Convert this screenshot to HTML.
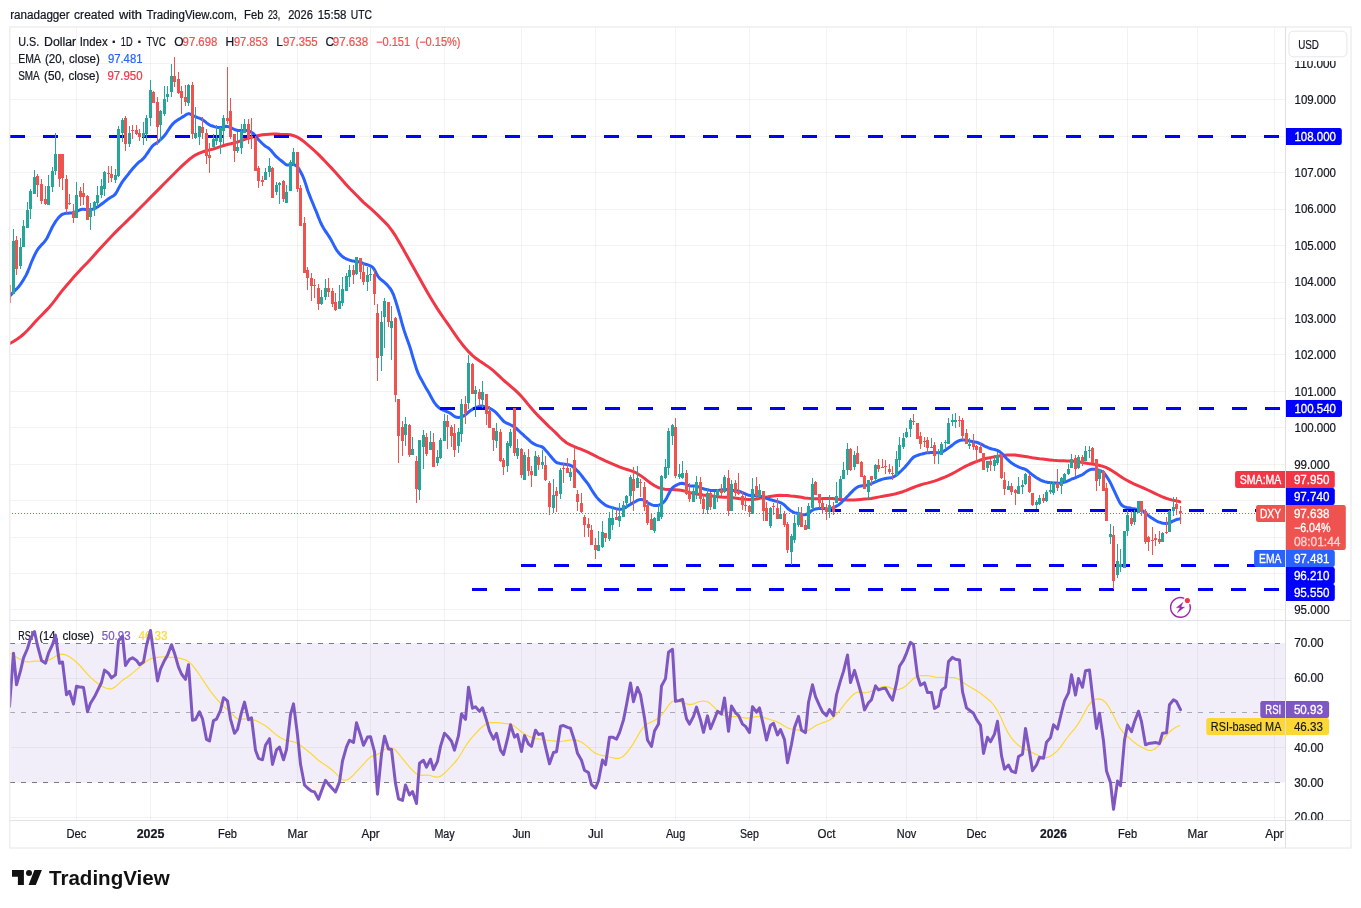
<!DOCTYPE html>
<html lang="en"><head><meta charset="utf-8"><title>U.S. Dollar Index chart</title>
<style>html,body{margin:0;padding:0;background:#fff;overflow:hidden}svg{display:block}text{font-family:"Liberation Sans",sans-serif}</style></head><body>
<svg width="1361" height="908" viewBox="0 0 1361 908">
<rect width="1361" height="908" fill="#fff"/>
<text font-size="12" fill="#131722" stroke="#131722" stroke-width="0.22"><tspan x="10.2" y="18.5" textLength="59.5" lengthAdjust="spacingAndGlyphs">ranadagger</tspan> <tspan x="74.1" y="18.5" textLength="40.2" lengthAdjust="spacingAndGlyphs">created</tspan> <tspan x="119.0" y="18.5" textLength="23.0" lengthAdjust="spacingAndGlyphs">with</tspan> <tspan x="146.4" y="18.5" textLength="90.6" lengthAdjust="spacingAndGlyphs">TradingView.com,</tspan> <tspan x="244.1" y="18.5" textLength="19.4" lengthAdjust="spacingAndGlyphs">Feb</tspan> <tspan x="267.9" y="18.5" textLength="12.4" lengthAdjust="spacingAndGlyphs">23,</tspan> <tspan x="288.2" y="18.5" textLength="24.7" lengthAdjust="spacingAndGlyphs">2026</tspan> <tspan x="317.7" y="18.5" textLength="28.7" lengthAdjust="spacingAndGlyphs">15:58</tspan> <tspan x="350.8" y="18.5" textLength="21.2" lengthAdjust="spacingAndGlyphs">UTC</tspan></text>
<defs>
<clipPath id="cm"><rect x="10" y="27.5" width="1275.5" height="593.0"/></clipPath>
<clipPath id="cr"><rect x="10" y="620.5" width="1275.5" height="200.0"/></clipPath>
<clipPath id="ca"><rect x="1285.5" y="27.5" width="65.5" height="593.0"/></clipPath>
<clipPath id="cb"><rect x="1285.5" y="620.5" width="65.5" height="200.0"/></clipPath>
</defs>
<g stroke="#2a3e34" stroke-opacity="0.062" stroke-width="1">
<line x1="76.5" y1="27.5" x2="76.5" y2="820.5"/>
<line x1="150.5" y1="27.5" x2="150.5" y2="820.5"/>
<line x1="227.5" y1="27.5" x2="227.5" y2="820.5"/>
<line x1="297.5" y1="27.5" x2="297.5" y2="820.5"/>
<line x1="370.5" y1="27.5" x2="370.5" y2="820.5"/>
<line x1="444.5" y1="27.5" x2="444.5" y2="820.5"/>
<line x1="521.5" y1="27.5" x2="521.5" y2="820.5"/>
<line x1="595.5" y1="27.5" x2="595.5" y2="820.5"/>
<line x1="675.5" y1="27.5" x2="675.5" y2="820.5"/>
<line x1="749.5" y1="27.5" x2="749.5" y2="820.5"/>
<line x1="826.5" y1="27.5" x2="826.5" y2="820.5"/>
<line x1="906.5" y1="27.5" x2="906.5" y2="820.5"/>
<line x1="976.5" y1="27.5" x2="976.5" y2="820.5"/>
<line x1="1053.5" y1="27.5" x2="1053.5" y2="820.5"/>
<line x1="1127.5" y1="27.5" x2="1127.5" y2="820.5"/>
<line x1="1197.5" y1="27.5" x2="1197.5" y2="820.5"/>
<line x1="1274.5" y1="27.5" x2="1274.5" y2="820.5"/>
<line x1="10.5" y1="609.5" x2="1285.5" y2="609.5"/>
<line x1="10.5" y1="573.5" x2="1285.5" y2="573.5"/>
<line x1="10.5" y1="537.5" x2="1285.5" y2="537.5"/>
<line x1="10.5" y1="500.5" x2="1285.5" y2="500.5"/>
<line x1="10.5" y1="464.5" x2="1285.5" y2="464.5"/>
<line x1="10.5" y1="427.5" x2="1285.5" y2="427.5"/>
<line x1="10.5" y1="391.5" x2="1285.5" y2="391.5"/>
<line x1="10.5" y1="354.5" x2="1285.5" y2="354.5"/>
<line x1="10.5" y1="318.5" x2="1285.5" y2="318.5"/>
<line x1="10.5" y1="282.5" x2="1285.5" y2="282.5"/>
<line x1="10.5" y1="245.5" x2="1285.5" y2="245.5"/>
<line x1="10.5" y1="209.5" x2="1285.5" y2="209.5"/>
<line x1="10.5" y1="172.5" x2="1285.5" y2="172.5"/>
<line x1="10.5" y1="136.5" x2="1285.5" y2="136.5"/>
<line x1="10.5" y1="99.5" x2="1285.5" y2="99.5"/>
<line x1="10.5" y1="63.5" x2="1285.5" y2="63.5"/>
<line x1="10.5" y1="817.5" x2="1285.5" y2="817.5"/>
<line x1="10.5" y1="747.5" x2="1285.5" y2="747.5"/>
<line x1="10.5" y1="678.5" x2="1285.5" y2="678.5"/>
</g>
<text font-size="12" fill="#131722" stroke="#131722" stroke-width="0.22"><tspan x="18.2" y="45.9" textLength="21.0" lengthAdjust="spacingAndGlyphs">U.S.</tspan> <tspan x="44.1" y="45.9" textLength="32.1" lengthAdjust="spacingAndGlyphs">Dollar</tspan> <tspan x="79.7" y="45.9" textLength="27.9" lengthAdjust="spacingAndGlyphs">Index</tspan> <tspan x="111.7" y="46.7" font-size="15" font-weight="bold">·</tspan> <tspan x="120.8" y="45.9" textLength="11.8" lengthAdjust="spacingAndGlyphs">1D</tspan> <tspan x="137.2" y="46.7" font-size="15" font-weight="bold">·</tspan> <tspan x="146.4" y="45.9" textLength="19.4" lengthAdjust="spacingAndGlyphs">TVC</tspan></text>
<text x="174.3" y="45.9" font-size="12" fill="#131722" stroke="#131722" stroke-width="0.22">O</text>
<text x="182.6" y="45.9" font-size="12" fill="#ef5350" textLength="34.7" lengthAdjust="spacingAndGlyphs" stroke="#ef5350" stroke-width="0.22">97.698</text>
<text x="225.4" y="45.9" font-size="12" fill="#131722" stroke="#131722" stroke-width="0.22">H</text>
<text x="233.9" y="45.9" font-size="12" fill="#ef5350" textLength="34.0" lengthAdjust="spacingAndGlyphs" stroke="#ef5350" stroke-width="0.22">97.853</text>
<text x="276.2" y="45.9" font-size="12" fill="#131722" stroke="#131722" stroke-width="0.22">L</text>
<text x="282.9" y="45.9" font-size="12" fill="#ef5350" textLength="34.8" lengthAdjust="spacingAndGlyphs" stroke="#ef5350" stroke-width="0.22">97.355</text>
<text x="325.6" y="45.9" font-size="12" fill="#131722" stroke="#131722" stroke-width="0.22">C</text>
<text x="332.8" y="45.9" font-size="12" fill="#ef5350" textLength="35.3" lengthAdjust="spacingAndGlyphs" stroke="#ef5350" stroke-width="0.22">97.638</text>
<text x="376.0" y="45.9" font-size="12" fill="#ef5350" textLength="34.2" lengthAdjust="spacingAndGlyphs" stroke="#ef5350" stroke-width="0.22">−0.151</text>
<text x="415.5" y="45.9" font-size="12" fill="#ef5350" textLength="45.0" lengthAdjust="spacingAndGlyphs" stroke="#ef5350" stroke-width="0.22">(−0.15%)</text>
<text font-size="12" fill="#131722" stroke="#131722" stroke-width="0.22"><tspan x="18.2" y="62.6" textLength="22.0" lengthAdjust="spacingAndGlyphs">EMA</tspan> <tspan x="45.0" y="62.6" textLength="19.9" lengthAdjust="spacingAndGlyphs">(20,</tspan> <tspan x="69.1" y="62.6" textLength="30.7" lengthAdjust="spacingAndGlyphs">close)</tspan></text>
<text x="107.9" y="62.6" font-size="12" fill="#2962ff" textLength="34.6" lengthAdjust="spacingAndGlyphs" stroke="#2962ff" stroke-width="0.22">97.481</text>
<text font-size="12" fill="#131722" stroke="#131722" stroke-width="0.22"><tspan x="18.2" y="79.7" textLength="21.0" lengthAdjust="spacingAndGlyphs">SMA</tspan> <tspan x="44.1" y="79.7" textLength="20.3" lengthAdjust="spacingAndGlyphs">(50,</tspan> <tspan x="68.4" y="79.7" textLength="30.9" lengthAdjust="spacingAndGlyphs">close)</tspan></text>
<text x="107.5" y="79.7" font-size="12" fill="#f23645" textLength="35.0" lengthAdjust="spacingAndGlyphs" stroke="#f23645" stroke-width="0.22">97.950</text>
<text font-size="12" fill="#131722" stroke="#131722" stroke-width="0.22"><tspan x="18.2" y="640.2" textLength="15.0" lengthAdjust="spacingAndGlyphs">RSI</tspan> <tspan x="39.3" y="640.2" textLength="19.3" lengthAdjust="spacingAndGlyphs">(14,</tspan> <tspan x="62.5" y="640.2" textLength="31.3" lengthAdjust="spacingAndGlyphs">close)</tspan></text>
<text x="101.8" y="640.2" font-size="12" fill="#7e57c2" textLength="28.8" lengthAdjust="spacingAndGlyphs" stroke="#7e57c2" stroke-width="0.22">50.93</text>
<text x="138.4" y="640.2" font-size="12" fill="#fdd835" textLength="29.2" lengthAdjust="spacingAndGlyphs" stroke="#fdd835" stroke-width="0.22">46.33</text>
<g clip-path="url(#cr)">
<rect x="10.5" y="643.1" width="1275.0" height="139.4" fill="#7e57c2" fill-opacity="0.1"/>
<g stroke="#787b86" stroke-width="1" stroke-dasharray="5 6" shape-rendering="crispEdges">
<line x1="10" y1="643.5" x2="1285.5" y2="643.5"/>
<line x1="10" y1="712.5" x2="1285.5" y2="712.5" stroke-opacity="0.6"/>
<line x1="10" y1="782.5" x2="1285.5" y2="782.5"/>
</g>
<clipPath id="co"><rect x="10.5" y="782.5" width="1275.0" height="60"/></clipPath>
<path clip-path="url(#co)" fill="#f23645" fill-opacity="0.07" d="M9.5 782.6L9.5 706.4L13.5 653.2L16.5 684.8L20.5 670.9L23.5 657.8L27.5 648.5L30.5 638.5L34.5 631.6L37.5 645.5L41.5 660.4L45.5 663.2L48.5 653.2L52.5 644.7L55.5 635.1L59.5 663.2L62.5 662.0L66.5 694.8L69.5 691.3L73.5 704.1L76.5 686.3L80.5 687.1L83.5 687.6L87.5 711.8L90.5 703.3L94.5 696.8L101.5 682.5L104.5 670.1L108.5 673.2L111.5 677.9L115.5 674.8L118.5 640.8L122.5 636.2L125.5 665.5L129.5 659.3L132.5 657.8L136.5 660.4L139.5 664.7L143.5 662.0L146.5 645.5L150.5 630.5L153.5 652.4L157.5 680.9L160.5 669.1L164.5 660.4L167.5 655.2L171.5 644.7L174.5 653.2L178.5 667.1L181.5 674.0L185.5 679.4L188.5 664.7L192.5 720.3L195.5 719.5L199.5 711.8L202.5 718.8L206.5 739.4L209.5 741.0L213.5 720.6L216.5 719.1L220.5 710.4L223.5 697.8L227.5 700.9L230.5 719.1L234.5 733.3L237.5 729.4L241.5 712.4L244.5 702.1L248.5 719.7L251.5 717.8L255.5 750.2L258.5 758.3L262.5 759.8L265.5 745.3L269.5 738.7L272.5 764.4L276.5 749.9L279.5 747.1L283.5 759.8L286.5 749.5L290.5 714.7L293.5 703.9L297.5 734.8L300.5 764.1L304.5 785.0L307.5 788.0L311.5 791.1L314.5 791.9L318.5 799.3L321.5 791.1L325.5 780.3L328.5 784.2L332.5 788.8L335.5 791.9L339.5 781.9L342.5 761.0L346.5 746.8L349.5 740.2L353.5 742.5L356.5 722.8L360.5 735.1L363.5 745.3L367.5 737.1L370.5 736.7L374.5 751.8L377.5 794.2L381.5 754.1L384.5 736.3L388.5 749.0L391.5 749.5L395.5 783.4L398.5 798.8L402.5 800.4L405.5 785.0L409.5 795.0L412.5 791.6L416.5 803.5L419.5 763.3L423.5 760.3L426.5 767.2L430.5 759.2L433.5 769.5L437.5 761.3L440.5 746.4L444.5 733.3L447.5 736.3L451.5 741.3L454.5 750.2L458.5 735.6L461.5 714.0L465.5 719.4L468.5 687.3L472.5 708.3L475.5 706.7L479.5 711.4L482.5 707.8L486.5 720.1L489.5 730.9L493.5 739.1L496.5 733.3L500.5 750.2L503.5 754.6L507.5 738.7L510.5 724.8L514.5 737.1L517.5 734.5L521.5 751.5L524.5 735.6L528.5 744.1L531.5 746.4L535.5 730.2L538.5 734.5L542.5 733.6L545.5 747.1L549.5 763.8L553.5 752.5L556.5 751.8L560.5 726.3L563.5 725.5L567.5 727.4L570.5 728.3L574.5 740.7L577.5 753.3L581.5 760.3L584.5 770.3L588.5 772.6L591.5 784.6L595.5 788.1L598.5 780.7L602.5 760.0L605.5 764.7L609.5 737.2L612.5 737.2L616.5 739.1L619.5 732.6L623.5 719.9L626.5 704.8L630.5 682.9L633.5 701.7L637.5 687.5L640.5 694.8L644.5 717.9L647.5 740.0L651.5 746.5L654.5 731.0L658.5 724.1L661.5 686.0L665.5 678.6L668.5 652.3L672.5 649.3L675.5 701.4L679.5 700.5L682.5 699.4L686.5 718.7L689.5 724.1L693.5 716.4L696.5 707.1L700.5 719.9L703.5 732.3L707.5 715.9L710.5 728.7L714.5 719.0L717.5 711.3L721.5 714.1L724.5 697.9L728.5 731.3L731.5 706.0L735.5 712.8L738.5 715.3L742.5 724.1L745.5 726.4L749.5 732.6L752.5 706.7L756.5 712.2L759.5 707.9L763.5 725.6L766.5 740.0L770.5 725.4L773.5 723.3L777.5 734.9L780.5 729.5L784.5 739.6L787.5 762.7L791.5 744.2L794.5 727.5L798.5 716.4L801.5 730.3L805.5 732.6L808.5 702.5L812.5 684.8L815.5 696.7L819.5 705.6L822.5 711.8L826.5 715.6L829.5 709.5L833.5 715.6L836.5 694.8L840.5 680.6L843.5 671.4L847.5 655.0L850.5 682.5L854.5 670.4L857.5 680.9L861.5 694.8L864.5 709.9L868.5 702.8L871.5 699.7L875.5 685.9L878.5 689.9L882.5 688.6L885.5 688.3L889.5 695.6L892.5 700.2L896.5 683.2L899.5 666.3L903.5 660.1L906.5 653.1L910.5 642.3L913.5 644.7L917.5 676.3L920.5 685.2L924.5 682.8L927.5 692.5L931.5 692.5L934.5 708.4L938.5 705.9L941.5 690.2L945.5 687.1L948.5 661.6L952.5 657.4L955.5 659.3L959.5 660.0L962.5 691.7L966.5 707.9L969.5 710.2L973.5 713.3L976.5 719.4L980.5 725.3L983.5 753.4L987.5 737.2L990.5 741.8L994.5 734.1L997.5 721.3L1001.5 755.7L1004.5 769.1L1008.5 765.0L1011.5 771.1L1015.5 772.7L1018.5 756.5L1022.5 754.2L1025.5 728.4L1029.5 751.8L1032.5 770.7L1036.5 765.0L1039.5 757.2L1043.5 758.3L1046.5 742.3L1050.5 737.6L1053.5 724.8L1057.5 729.0L1061.5 712.5L1064.5 700.9L1068.5 692.9L1071.5 674.7L1075.5 695.1L1078.5 678.5L1082.5 687.3L1085.5 670.8L1089.5 670.1L1092.5 696.0L1096.5 728.4L1099.5 713.3L1103.5 741.0L1106.5 771.0L1110.5 782.6L1113.5 809.3L1117.5 781.1L1120.5 785.7L1124.5 740.2L1127.5 725.1L1131.5 731.7L1134.5 721.7L1138.5 711.2L1141.5 721.7L1145.5 744.8L1148.5 743.6L1152.5 743.0L1155.5 742.5L1159.5 743.6L1162.5 733.2L1166.5 732.8L1169.5 704.7L1173.5 699.8L1176.5 701.6L1180.5 709.6L1180.5 782.6Z"/>
<polyline fill="none" stroke="#fdd835" stroke-width="1.2" stroke-linejoin="round" points="10.3,653.2 13.8,655.3 17.3,657.7 20.8,659.8 24.3,661.3 27.8,661.9 31.3,661.6 34.8,661.2 38.3,661.1 41.8,661.2 45.3,660.9 48.8,660.1 52.3,658.4 55.8,656.1 59.3,654.4 62.8,654.2 66.3,655.1 69.8,657.0 73.3,659.5 76.8,662.5 80.3,666.0 83.8,670.0 87.3,674.0 90.8,677.6 94.3,680.7 97.8,683.5 101.3,685.9 104.8,687.7 108.3,688.8 111.8,688.8 115.3,686.9 118.8,683.6 122.3,680.4 125.8,677.9 129.3,675.7 132.8,672.9 136.3,669.9 139.8,666.9 143.3,663.9 146.8,661.1 150.3,658.9 153.8,657.8 157.3,657.3 160.8,657.0 164.3,656.9 167.8,657.3 171.3,657.4 174.8,657.4 178.3,657.9 181.8,658.8 185.3,659.8 188.8,661.7 192.3,665.1 195.8,669.6 199.3,674.5 202.8,679.8 206.3,685.2 209.8,690.3 213.3,694.9 216.8,699.1 220.3,703.0 223.8,706.5 227.3,709.4 230.8,712.6 234.3,716.4 237.8,719.0 241.3,719.3 244.8,718.9 248.3,719.0 251.8,719.5 255.3,720.3 258.8,722.0 262.3,724.0 265.8,726.1 269.3,728.7 272.8,731.9 276.3,734.9 279.8,737.3 283.3,739.3 286.8,740.6 290.3,741.2 293.8,741.8 297.3,743.2 300.8,745.6 304.3,748.2 307.8,750.9 311.3,753.7 314.8,757.0 318.3,760.2 321.8,762.8 325.3,765.1 328.8,767.5 332.3,770.2 335.8,773.4 339.3,777.1 342.8,779.9 346.3,780.2 349.8,778.3 353.3,775.2 356.8,771.4 360.3,767.6 363.8,763.8 367.3,759.9 370.8,756.9 374.3,755.4 377.8,754.3 381.3,752.2 384.8,749.3 388.3,747.4 391.8,747.7 395.3,750.0 398.8,753.8 402.3,758.3 405.8,762.7 409.3,766.9 412.8,770.7 416.3,773.7 419.8,775.2 423.3,775.3 426.8,775.0 430.3,775.5 433.8,776.7 437.3,777.2 440.8,776.1 444.3,773.5 447.8,769.9 451.3,766.2 454.8,762.5 458.3,758.2 461.8,752.5 465.3,746.5 468.8,741.3 472.3,737.1 475.8,733.3 479.3,729.5 482.8,726.2 486.3,723.9 489.8,722.7 493.3,722.5 496.8,722.6 500.3,722.9 503.8,723.3 507.3,723.6 510.8,724.3 514.3,726.1 517.8,728.9 521.3,731.8 524.8,734.0 528.3,736.0 531.8,737.6 535.3,738.6 538.8,739.0 542.3,739.4 545.8,740.0 549.3,740.5 552.8,740.8 556.3,741.2 559.8,741.5 563.3,741.2 566.8,740.6 570.3,740.0 573.8,739.9 577.3,740.4 580.8,741.8 584.3,744.1 587.8,746.9 591.3,750.2 594.8,752.9 598.3,754.5 601.8,755.4 605.3,756.2 608.8,757.0 612.3,757.7 615.8,758.4 619.3,758.3 622.8,756.7 626.3,753.3 629.8,748.9 633.3,743.6 636.8,737.6 640.3,731.4 643.8,726.6 647.3,723.9 650.8,722.2 654.3,720.5 657.8,718.4 661.3,715.2 664.8,710.8 668.3,705.6 671.8,701.8 675.3,700.7 678.8,701.3 682.3,702.2 685.8,703.6 689.3,704.6 692.8,704.2 696.3,702.7 699.8,701.5 703.3,701.0 706.8,701.5 710.3,703.6 713.8,706.9 717.3,710.7 720.8,713.9 724.3,715.6 727.8,716.3 731.3,716.6 734.8,716.6 738.3,716.6 741.8,717.3 745.3,718.2 748.8,718.2 752.3,717.4 755.8,716.6 759.3,716.3 762.8,717.0 766.3,718.4 769.8,719.5 773.3,720.5 776.8,721.8 780.3,723.6 783.8,725.8 787.3,727.7 790.8,729.0 794.3,729.5 797.8,729.9 801.3,730.6 804.8,731.3 808.3,730.5 811.8,728.3 815.3,725.9 818.8,724.2 822.3,722.9 825.8,721.6 829.3,720.2 832.8,718.0 836.3,714.5 839.8,710.3 843.3,705.9 846.8,701.5 850.3,697.5 853.8,694.0 857.3,692.2 860.8,692.2 864.3,692.8 867.8,692.5 871.3,691.3 874.8,689.8 878.3,688.2 881.8,686.9 885.3,686.4 888.8,687.1 892.3,688.7 895.8,689.7 899.3,689.3 902.8,687.9 906.3,685.5 909.8,682.1 913.3,678.7 916.8,676.5 920.3,675.7 923.8,675.5 927.3,675.6 930.8,676.0 934.3,676.9 937.8,677.5 941.3,677.4 944.8,677.4 948.3,677.5 951.8,677.5 955.3,677.9 958.8,679.3 962.3,681.7 965.8,684.3 969.3,686.6 972.8,688.6 976.3,690.4 979.8,692.7 983.3,695.4 986.8,698.2 990.3,701.2 993.8,705.1 997.3,710.3 1000.8,717.2 1004.3,725.2 1007.8,732.4 1011.3,737.8 1014.8,741.9 1018.3,745.3 1021.8,747.6 1025.3,749.1 1028.8,750.8 1032.3,752.6 1035.8,754.3 1039.3,755.9 1042.8,757.2 1046.3,757.7 1049.8,756.6 1053.3,754.2 1056.8,751.4 1060.3,747.4 1063.8,742.4 1067.3,737.5 1070.8,733.1 1074.3,729.1 1077.8,724.4 1081.3,718.5 1084.8,711.9 1088.3,705.8 1091.8,701.5 1095.3,699.4 1098.8,698.8 1102.3,699.7 1105.8,702.6 1109.3,707.7 1112.8,714.2 1116.3,721.3 1119.8,727.9 1123.3,732.6 1126.8,735.8 1130.3,739.0 1133.8,742.1 1137.3,744.7 1140.8,746.7 1144.3,748.5 1147.8,750.1 1151.3,750.5 1154.8,749.0 1158.3,745.9 1161.8,741.4 1165.3,736.8 1168.8,732.8 1172.3,729.5 1175.8,727.3 1179.3,725.8 1180.0,725.2"/>
<polyline fill="none" stroke="#7e57c2" stroke-width="3" stroke-linejoin="round" stroke-linecap="round" points="9.5,706.4 13.5,653.2 16.5,684.8 20.5,670.9 23.5,657.8 27.5,648.5 30.5,638.5 34.5,631.6 37.5,645.5 41.5,660.4 45.5,663.2 48.5,653.2 52.5,644.7 55.5,635.1 59.5,663.2 62.5,662.0 66.5,694.8 69.5,691.3 73.5,704.1 76.5,686.3 80.5,687.1 83.5,687.6 87.5,711.8 90.5,703.3 94.5,696.8 101.5,682.5 104.5,670.1 108.5,673.2 111.5,677.9 115.5,674.8 118.5,640.8 122.5,636.2 125.5,665.5 129.5,659.3 132.5,657.8 136.5,660.4 139.5,664.7 143.5,662.0 146.5,645.5 150.5,630.5 153.5,652.4 157.5,680.9 160.5,669.1 164.5,660.4 167.5,655.2 171.5,644.7 174.5,653.2 178.5,667.1 181.5,674.0 185.5,679.4 188.5,664.7 192.5,720.3 195.5,719.5 199.5,711.8 202.5,718.8 206.5,739.4 209.5,741.0 213.5,720.6 216.5,719.1 220.5,710.4 223.5,697.8 227.5,700.9 230.5,719.1 234.5,733.3 237.5,729.4 241.5,712.4 244.5,702.1 248.5,719.7 251.5,717.8 255.5,750.2 258.5,758.3 262.5,759.8 265.5,745.3 269.5,738.7 272.5,764.4 276.5,749.9 279.5,747.1 283.5,759.8 286.5,749.5 290.5,714.7 293.5,703.9 297.5,734.8 300.5,764.1 304.5,785.0 307.5,788.0 311.5,791.1 314.5,791.9 318.5,799.3 321.5,791.1 325.5,780.3 328.5,784.2 332.5,788.8 335.5,791.9 339.5,781.9 342.5,761.0 346.5,746.8 349.5,740.2 353.5,742.5 356.5,722.8 360.5,735.1 363.5,745.3 367.5,737.1 370.5,736.7 374.5,751.8 377.5,794.2 381.5,754.1 384.5,736.3 388.5,749.0 391.5,749.5 395.5,783.4 398.5,798.8 402.5,800.4 405.5,785.0 409.5,795.0 412.5,791.6 416.5,803.5 419.5,763.3 423.5,760.3 426.5,767.2 430.5,759.2 433.5,769.5 437.5,761.3 440.5,746.4 444.5,733.3 447.5,736.3 451.5,741.3 454.5,750.2 458.5,735.6 461.5,714.0 465.5,719.4 468.5,687.3 472.5,708.3 475.5,706.7 479.5,711.4 482.5,707.8 486.5,720.1 489.5,730.9 493.5,739.1 496.5,733.3 500.5,750.2 503.5,754.6 507.5,738.7 510.5,724.8 514.5,737.1 517.5,734.5 521.5,751.5 524.5,735.6 528.5,744.1 531.5,746.4 535.5,730.2 538.5,734.5 542.5,733.6 545.5,747.1 549.5,763.8 553.5,752.5 556.5,751.8 560.5,726.3 563.5,725.5 567.5,727.4 570.5,728.3 574.5,740.7 577.5,753.3 581.5,760.3 584.5,770.3 588.5,772.6 591.5,784.6 595.5,788.1 598.5,780.7 602.5,760.0 605.5,764.7 609.5,737.2 612.5,737.2 616.5,739.1 619.5,732.6 623.5,719.9 626.5,704.8 630.5,682.9 633.5,701.7 637.5,687.5 640.5,694.8 644.5,717.9 647.5,740.0 651.5,746.5 654.5,731.0 658.5,724.1 661.5,686.0 665.5,678.6 668.5,652.3 672.5,649.3 675.5,701.4 679.5,700.5 682.5,699.4 686.5,718.7 689.5,724.1 693.5,716.4 696.5,707.1 700.5,719.9 703.5,732.3 707.5,715.9 710.5,728.7 714.5,719.0 717.5,711.3 721.5,714.1 724.5,697.9 728.5,731.3 731.5,706.0 735.5,712.8 738.5,715.3 742.5,724.1 745.5,726.4 749.5,732.6 752.5,706.7 756.5,712.2 759.5,707.9 763.5,725.6 766.5,740.0 770.5,725.4 773.5,723.3 777.5,734.9 780.5,729.5 784.5,739.6 787.5,762.7 791.5,744.2 794.5,727.5 798.5,716.4 801.5,730.3 805.5,732.6 808.5,702.5 812.5,684.8 815.5,696.7 819.5,705.6 822.5,711.8 826.5,715.6 829.5,709.5 833.5,715.6 836.5,694.8 840.5,680.6 843.5,671.4 847.5,655.0 850.5,682.5 854.5,670.4 857.5,680.9 861.5,694.8 864.5,709.9 868.5,702.8 871.5,699.7 875.5,685.9 878.5,689.9 882.5,688.6 885.5,688.3 889.5,695.6 892.5,700.2 896.5,683.2 899.5,666.3 903.5,660.1 906.5,653.1 910.5,642.3 913.5,644.7 917.5,676.3 920.5,685.2 924.5,682.8 927.5,692.5 931.5,692.5 934.5,708.4 938.5,705.9 941.5,690.2 945.5,687.1 948.5,661.6 952.5,657.4 955.5,659.3 959.5,660.0 962.5,691.7 966.5,707.9 969.5,710.2 973.5,713.3 976.5,719.4 980.5,725.3 983.5,753.4 987.5,737.2 990.5,741.8 994.5,734.1 997.5,721.3 1001.5,755.7 1004.5,769.1 1008.5,765.0 1011.5,771.1 1015.5,772.7 1018.5,756.5 1022.5,754.2 1025.5,728.4 1029.5,751.8 1032.5,770.7 1036.5,765.0 1039.5,757.2 1043.5,758.3 1046.5,742.3 1050.5,737.6 1053.5,724.8 1057.5,729.0 1061.5,712.5 1064.5,700.9 1068.5,692.9 1071.5,674.7 1075.5,695.1 1078.5,678.5 1082.5,687.3 1085.5,670.8 1089.5,670.1 1092.5,696.0 1096.5,728.4 1099.5,713.3 1103.5,741.0 1106.5,771.0 1110.5,782.6 1113.5,809.3 1117.5,781.1 1120.5,785.7 1124.5,740.2 1127.5,725.1 1131.5,731.7 1134.5,721.7 1138.5,711.2 1141.5,721.7 1145.5,744.8 1148.5,743.6 1152.5,743.0 1155.5,742.5 1159.5,743.6 1162.5,733.2 1166.5,732.8 1169.5,704.7 1173.5,699.8 1176.5,701.6 1180.5,709.6"/>
</g>
<g clip-path="url(#cm)">
<polyline fill="none" stroke="#f23645" stroke-width="3" stroke-linejoin="round" stroke-linecap="round" points="10.3,343.2 13.8,341.2 17.3,339.0 20.8,336.5 24.3,333.5 27.8,330.0 31.3,326.2 34.8,322.2 38.3,318.5 41.8,315.0 45.3,311.4 48.8,307.7 52.3,303.6 55.8,299.1 59.3,294.4 62.8,289.9 66.3,285.7 69.8,281.7 73.3,277.6 76.8,273.7 80.3,269.9 83.8,266.3 87.3,262.7 90.8,258.9 94.3,255.1 97.8,251.1 101.3,247.3 104.8,243.5 108.3,239.7 111.8,236.0 115.3,232.4 118.8,228.9 122.3,225.5 125.8,222.1 129.3,218.7 132.8,215.3 136.3,211.8 139.8,208.2 143.3,204.7 146.8,201.2 150.3,197.6 153.8,194.1 157.3,190.6 160.8,187.1 164.3,183.5 167.8,180.0 171.3,176.5 174.8,173.0 178.3,169.5 181.8,166.1 185.3,162.8 188.8,159.8 192.3,157.1 195.8,154.8 199.3,153.1 202.8,151.8 206.3,150.8 209.8,149.9 213.3,149.0 216.8,147.8 220.3,146.6 223.8,145.5 227.3,144.5 230.8,143.7 234.3,142.9 237.8,141.9 241.3,140.6 244.8,139.4 248.3,138.2 251.8,137.2 255.3,136.3 258.8,135.4 262.3,134.8 265.8,134.4 269.3,134.2 272.8,134.1 276.3,134.1 279.8,134.3 283.3,134.4 286.8,134.5 290.3,134.8 293.8,135.7 297.3,137.1 300.8,139.2 304.3,141.9 307.8,144.8 311.3,147.8 314.8,151.0 318.3,154.4 321.8,157.9 325.3,161.5 328.8,165.2 332.3,168.9 335.8,172.8 339.3,176.8 342.8,180.8 346.3,184.7 349.8,188.5 353.3,192.0 356.8,195.5 360.3,199.1 363.8,202.6 367.3,205.7 370.8,208.7 374.3,211.8 377.8,215.1 381.3,218.6 384.8,222.1 388.3,225.8 391.8,230.3 395.3,235.6 398.8,241.5 402.3,247.6 405.8,253.7 409.3,259.9 412.8,266.2 416.3,272.5 419.8,278.8 423.3,285.0 426.8,291.2 430.3,297.2 433.8,303.0 437.3,308.6 440.8,313.9 444.3,319.0 447.8,323.9 451.3,329.0 454.8,334.2 458.3,339.1 461.8,343.7 465.3,348.0 468.8,351.9 472.3,355.4 475.8,358.3 479.3,360.8 482.8,363.1 486.3,365.4 489.8,367.9 493.3,370.7 496.8,373.8 500.3,377.2 503.8,380.5 507.3,383.4 510.8,386.3 514.3,389.3 517.8,392.6 521.3,396.3 524.8,400.3 528.3,404.6 531.8,408.7 535.3,412.7 538.8,416.4 542.3,419.9 545.8,423.4 549.3,426.8 552.8,430.0 556.3,433.4 559.8,437.0 563.3,440.3 566.8,443.0 570.3,444.9 573.8,446.4 577.3,447.8 580.8,449.1 584.3,450.6 587.8,452.1 591.3,453.8 594.8,455.6 598.3,457.5 601.8,459.2 605.3,460.8 608.8,462.3 612.3,463.8 615.8,465.3 619.3,466.8 622.8,468.1 626.3,469.3 629.8,470.4 633.3,471.6 636.8,473.2 640.3,475.4 643.8,477.9 647.3,480.6 650.8,483.3 654.3,485.5 657.8,487.3 661.3,488.5 664.8,489.2 668.3,489.5 671.8,489.6 675.3,489.7 678.8,490.0 682.3,490.5 685.8,491.4 689.3,492.4 692.8,493.3 696.3,493.9 699.8,494.5 703.3,495.0 706.8,495.4 710.3,495.8 713.8,496.3 717.3,496.7 720.8,497.1 724.3,497.2 727.8,497.3 731.3,497.5 734.8,497.9 738.3,498.4 741.8,498.9 745.3,499.3 748.8,499.5 752.3,499.4 755.8,498.9 759.3,498.4 762.8,497.7 766.3,497.1 769.8,496.4 773.3,495.9 776.8,495.5 780.3,495.3 783.8,495.4 787.3,495.6 790.8,496.0 794.3,496.3 797.8,496.8 801.3,497.3 804.8,497.9 808.3,498.3 811.8,498.6 815.3,498.7 818.8,498.7 822.3,498.6 825.8,498.4 829.3,498.4 832.8,498.6 836.3,499.0 839.8,499.4 843.3,499.8 846.8,500.0 850.3,500.1 853.8,500.0 857.3,499.7 860.8,499.4 864.3,499.1 867.8,498.8 871.3,498.4 874.8,497.8 878.3,497.1 881.8,496.4 885.3,495.8 888.8,495.2 892.3,494.6 895.8,493.8 899.3,492.8 902.8,491.7 906.3,490.4 909.8,488.9 913.3,487.5 916.8,486.2 920.3,485.0 923.8,483.9 927.3,483.1 930.8,482.1 934.3,481.1 937.8,479.9 941.3,478.5 944.8,477.1 948.3,475.6 951.8,473.9 955.3,472.0 958.8,470.0 962.3,468.0 965.8,466.1 969.3,464.5 972.8,463.0 976.3,461.6 979.8,460.3 983.3,459.2 986.8,458.3 990.3,457.6 993.8,456.9 997.3,456.3 1000.8,455.7 1004.3,455.3 1007.8,455.0 1011.3,455.0 1014.8,455.1 1018.3,455.4 1021.8,455.9 1025.3,456.5 1028.8,457.1 1032.3,457.8 1035.8,458.3 1039.3,458.8 1042.8,459.1 1046.3,459.5 1049.8,459.9 1053.3,460.3 1056.8,460.6 1060.3,460.7 1063.8,460.8 1067.3,460.9 1070.8,461.0 1074.3,461.3 1077.8,461.7 1081.3,462.3 1084.8,462.9 1088.3,463.5 1091.8,464.0 1095.3,464.5 1098.8,465.2 1102.3,466.1 1105.8,467.3 1109.3,469.1 1112.8,471.2 1116.3,473.5 1119.8,475.9 1123.3,478.2 1126.8,480.2 1130.3,482.1 1133.8,483.8 1137.3,485.3 1140.8,486.8 1144.3,488.4 1147.8,490.0 1151.3,491.6 1154.8,493.3 1158.3,495.0 1161.8,496.6 1165.3,498.0 1168.8,499.1 1172.3,500.1 1175.8,500.8 1179.3,501.4 1179.8,501.8"/>
<polyline fill="none" stroke="#2962ff" stroke-width="3" stroke-linejoin="round" stroke-linecap="round" points="10.3,295.5 12.1,293.6 13.8,291.7 15.6,289.9 17.3,288.2 19.1,286.2 20.8,283.9 22.6,281.2 24.3,278.3 26.1,275.2 27.8,271.5 29.6,267.1 31.3,262.5 33.1,258.4 34.8,254.6 36.6,251.2 38.3,248.6 40.1,246.5 41.8,244.6 43.6,242.7 45.3,240.7 47.1,238.0 48.8,234.4 50.6,230.6 52.3,227.0 54.1,223.9 55.8,221.1 57.6,218.9 59.3,216.8 61.1,215.1 62.8,214.1 64.6,213.6 66.3,213.3 68.1,213.2 69.8,213.1 71.6,213.0 73.3,212.7 75.1,212.0 76.8,211.2 78.6,210.5 80.3,209.7 82.1,209.2 83.8,209.2 85.6,209.5 87.3,209.7 89.1,209.7 90.8,209.4 92.6,209.2 94.3,208.7 96.1,207.8 97.8,206.7 99.6,205.5 101.3,204.3 103.1,203.0 104.8,201.6 106.6,200.2 108.3,198.9 110.1,197.8 111.8,196.8 113.6,195.8 115.3,194.1 117.1,191.2 118.8,187.9 120.6,184.7 122.3,181.9 124.1,179.5 125.8,177.3 127.6,175.1 129.3,172.8 131.1,170.6 132.8,168.5 134.6,166.6 136.3,164.7 138.1,162.9 139.8,161.4 141.6,160.2 143.3,158.6 145.1,156.5 146.8,154.0 148.6,151.5 150.3,148.8 152.1,146.4 153.8,144.7 155.6,143.6 157.3,142.5 159.1,141.0 160.8,139.4 162.6,137.7 164.3,135.8 166.1,133.5 167.8,130.8 169.6,128.2 171.3,125.7 173.1,123.6 174.8,122.0 176.6,120.7 178.3,119.6 180.1,118.5 181.8,117.4 183.6,116.4 185.3,115.3 187.1,114.1 188.8,113.6 190.6,114.2 192.3,115.2 194.1,116.1 195.8,116.8 197.6,117.6 199.3,118.2 201.1,118.9 202.8,119.9 204.6,121.2 206.3,122.6 208.1,124.0 209.8,125.1 211.6,125.8 213.3,126.3 215.1,126.9 216.8,127.3 218.6,127.6 220.3,127.6 222.1,127.2 223.8,126.6 225.6,126.3 227.3,126.4 229.1,126.9 230.8,127.6 232.6,128.5 234.3,129.3 236.1,130.0 237.8,130.5 239.6,130.6 241.3,130.5 243.1,130.5 244.8,130.5 246.6,130.6 248.3,130.9 250.1,131.6 251.8,132.5 253.6,133.8 255.3,135.8 257.1,138.0 258.8,140.0 260.6,141.8 262.3,143.5 264.1,145.1 265.8,146.5 267.6,147.5 269.3,148.7 271.1,150.5 272.8,152.6 274.6,154.8 276.3,156.7 278.1,158.2 279.8,159.6 281.6,161.0 283.3,162.4 285.1,164.0 286.8,165.0 288.6,164.9 290.3,164.5 292.1,164.3 293.8,164.6 295.6,165.3 297.3,166.7 299.1,169.1 300.8,172.2 302.6,175.7 304.3,179.9 306.1,185.2 307.8,190.7 309.6,195.4 311.3,199.7 313.1,204.0 314.8,208.2 316.6,212.4 318.3,216.9 320.1,221.3 321.8,225.0 323.6,228.2 325.3,231.0 327.1,233.5 328.8,236.1 330.6,239.0 332.3,242.1 334.1,245.6 335.8,248.8 337.6,251.3 339.3,253.5 341.1,255.4 342.8,256.9 344.6,258.0 346.3,258.8 348.1,259.6 349.8,260.2 351.6,260.7 353.3,261.1 355.1,261.4 356.8,261.5 358.6,261.8 360.3,262.3 362.1,263.0 363.8,263.7 365.6,264.2 367.3,264.7 369.1,265.3 370.8,266.1 372.6,267.2 374.3,269.5 376.1,273.0 377.8,276.1 379.6,278.3 381.3,279.8 383.1,281.2 384.8,282.6 386.6,284.3 388.3,286.3 390.1,288.4 391.8,291.1 393.6,295.0 395.3,299.9 397.1,305.7 398.8,311.6 400.6,317.9 402.3,324.5 404.1,330.4 405.8,335.5 407.6,340.4 409.3,345.3 411.1,350.8 412.8,356.9 414.6,362.9 416.3,368.4 418.1,373.2 419.8,376.8 421.6,379.9 423.3,383.1 425.1,386.4 426.8,389.4 428.6,392.2 430.3,395.4 432.1,398.8 433.8,401.8 435.6,404.2 437.3,406.2 439.1,407.8 440.8,409.0 442.6,409.9 444.3,410.7 446.1,411.3 447.8,412.0 449.6,412.8 451.3,414.0 453.1,415.4 454.8,416.6 456.6,417.3 458.3,417.5 460.1,417.3 461.8,416.7 463.6,416.0 465.3,414.8 467.1,413.3 468.8,411.8 470.6,410.5 472.3,409.4 474.1,408.4 475.8,407.6 477.6,406.9 479.3,406.3 481.1,406.1 482.8,406.2 484.6,406.6 486.3,407.1 488.1,407.7 489.8,408.4 491.6,409.3 493.3,410.4 495.1,411.7 496.8,413.4 498.6,415.4 500.3,417.5 502.1,419.6 503.8,421.4 505.6,422.6 507.3,423.4 509.1,424.2 510.8,425.0 512.6,425.9 514.3,426.9 516.1,428.2 517.8,429.8 519.6,431.5 521.3,433.2 523.1,434.7 524.8,436.3 526.6,437.8 528.3,439.4 530.1,441.1 531.8,442.6 533.6,443.7 535.3,444.6 537.1,445.3 538.8,445.9 540.6,446.3 542.3,447.0 544.1,448.5 545.8,450.4 547.6,452.4 549.3,454.6 551.1,456.8 552.8,458.9 554.6,460.8 556.3,462.3 558.1,463.0 559.8,463.4 561.6,463.7 563.3,464.0 565.1,464.3 566.8,464.6 568.6,464.8 570.3,465.3 572.1,466.2 573.8,467.5 575.6,469.0 577.3,470.7 579.1,472.6 580.8,474.6 582.6,477.0 584.3,479.3 586.1,481.5 587.8,483.7 589.6,486.4 591.3,489.3 593.1,492.2 594.8,494.7 596.6,497.1 598.3,499.1 600.1,500.8 601.8,502.4 603.6,503.8 605.3,505.1 607.1,506.0 608.8,506.6 610.6,507.1 612.3,507.6 614.1,508.1 615.8,508.6 617.6,509.0 619.3,509.3 621.1,509.3 622.8,508.9 624.6,508.1 626.3,507.0 628.1,505.8 629.8,504.7 631.6,503.6 633.3,502.7 635.1,501.7 636.8,500.7 638.6,499.9 640.3,499.5 642.1,499.6 643.8,500.2 645.6,501.2 647.3,502.5 649.1,503.5 650.8,504.4 652.6,505.1 654.3,505.5 656.1,505.6 657.8,505.4 659.6,505.0 661.3,504.1 663.1,502.8 664.8,501.0 666.6,498.2 668.3,494.7 670.1,491.3 671.8,488.5 673.6,486.7 675.3,485.7 677.1,484.8 678.8,484.0 680.6,483.4 682.3,483.3 684.1,483.7 685.8,484.4 687.6,485.1 689.3,485.7 691.1,485.9 692.8,486.0 694.6,486.0 696.3,486.2 698.1,486.6 699.8,487.3 701.6,488.1 703.3,488.7 705.1,489.2 706.8,489.5 708.6,490.0 710.3,490.4 712.1,490.5 713.8,490.6 715.6,490.6 717.3,490.4 719.1,490.3 720.8,490.0 722.6,489.7 724.3,489.5 726.1,489.6 727.8,489.9 729.6,490.2 731.3,490.3 733.1,490.4 734.8,490.5 736.6,490.6 738.3,491.0 740.1,491.6 741.8,492.3 743.6,493.1 745.3,493.9 747.1,494.7 748.8,495.3 750.6,495.5 752.3,495.4 754.1,495.3 755.8,495.4 757.6,495.6 759.3,496.0 761.1,496.5 762.8,497.1 764.6,497.7 766.3,498.3 768.1,498.9 769.8,499.5 771.6,500.0 773.3,500.5 775.1,501.0 776.8,501.4 778.6,501.9 780.3,502.6 782.1,503.4 783.8,504.5 785.6,506.2 787.3,508.0 789.1,509.5 790.8,510.7 792.6,511.8 794.3,512.6 796.1,513.1 797.8,513.4 799.6,513.8 801.3,514.3 803.1,514.7 804.8,514.8 806.6,514.3 808.3,513.2 810.1,511.9 811.8,510.5 813.6,509.6 815.3,509.1 817.1,508.8 818.8,508.6 820.6,508.6 822.3,508.5 824.1,508.5 825.8,508.7 827.6,509.0 829.3,509.0 831.1,508.5 832.8,507.9 834.6,507.1 836.3,506.2 838.1,505.2 839.8,503.9 841.6,502.3 843.3,500.5 845.1,498.7 846.8,497.0 848.6,495.2 850.3,493.4 852.1,491.6 853.8,489.8 855.6,488.3 857.3,487.2 859.1,486.4 860.8,486.0 862.6,485.8 864.3,485.7 866.1,485.4 867.8,484.9 869.6,484.4 871.3,483.7 873.1,482.9 874.8,482.1 876.6,481.4 878.3,480.7 880.1,480.0 881.8,479.4 883.6,478.9 885.3,478.5 887.1,478.2 888.8,477.9 890.6,477.7 892.3,477.4 894.1,476.6 895.8,475.5 897.6,474.2 899.3,472.6 901.1,471.0 902.8,469.3 904.6,467.5 906.3,465.5 908.1,463.5 909.8,461.3 911.6,459.1 913.3,457.4 915.1,456.3 916.8,455.6 918.6,455.0 920.3,454.4 922.1,454.0 923.8,453.5 925.6,453.1 927.3,452.8 929.1,452.7 930.8,452.6 932.6,452.6 934.3,452.6 936.1,452.7 937.8,452.8 939.6,452.7 941.3,452.3 943.1,451.6 944.8,450.5 946.6,449.3 948.3,448.1 950.1,446.8 951.8,445.5 953.6,444.1 955.3,442.7 957.1,441.6 958.8,440.8 960.6,440.3 962.3,440.1 964.1,440.1 965.8,440.3 967.6,440.6 969.3,440.9 971.1,441.2 972.8,441.6 974.6,441.9 976.3,442.3 978.1,442.8 979.8,443.5 981.6,444.4 983.3,445.4 985.1,446.3 986.8,447.0 988.6,447.8 990.3,448.5 992.1,449.0 993.8,449.4 995.6,449.8 997.3,450.4 999.1,451.3 1000.8,452.6 1002.6,454.2 1004.3,456.1 1006.1,458.0 1007.8,459.7 1009.6,461.4 1011.3,462.8 1013.1,464.0 1014.8,465.1 1016.6,466.0 1018.3,466.9 1020.1,467.6 1021.8,468.2 1023.6,468.7 1025.3,469.4 1027.1,470.4 1028.8,471.8 1030.6,473.3 1032.3,474.8 1034.1,476.0 1035.8,477.2 1037.6,478.4 1039.3,479.4 1041.1,480.3 1042.8,481.0 1044.6,481.6 1046.3,482.1 1048.1,482.4 1049.8,482.6 1051.6,482.7 1053.3,482.9 1055.1,483.0 1056.8,483.1 1058.6,483.2 1060.3,483.1 1062.1,482.9 1063.8,482.4 1065.6,481.9 1067.3,481.2 1069.1,480.4 1070.8,479.5 1072.6,478.7 1074.3,478.2 1076.1,477.5 1077.8,476.7 1079.6,475.9 1081.3,475.2 1083.1,474.2 1084.8,472.9 1086.6,471.6 1088.3,470.5 1090.1,469.6 1091.8,469.2 1093.6,469.2 1095.3,469.3 1097.1,469.7 1098.8,470.2 1100.6,470.8 1102.3,471.8 1104.1,473.2 1105.8,475.4 1107.6,478.0 1109.3,480.8 1111.1,484.1 1112.8,487.8 1114.6,491.6 1116.3,495.3 1118.1,499.1 1119.8,502.6 1121.6,505.0 1123.3,506.3 1125.1,507.0 1126.8,507.5 1128.6,507.8 1130.3,508.1 1132.1,508.5 1133.8,508.8 1135.6,509.1 1137.3,509.3 1139.1,509.5 1140.8,510.0 1142.6,510.8 1144.3,512.0 1146.1,513.4 1147.8,515.1 1149.6,516.5 1151.3,517.7 1153.1,518.8 1154.8,520.0 1156.6,521.0 1158.3,521.8 1160.1,522.4 1161.8,523.0 1163.6,523.3 1165.3,523.5 1167.1,523.4 1168.8,523.0 1170.6,522.3 1172.3,521.4 1174.1,520.6 1175.8,519.8 1177.6,519.3 1179.3,519.0 1179.8,518.8"/>
<g stroke="#0000ff" stroke-width="3" stroke-dasharray="15 18">
<line x1="10.0" y1="136.5" x2="1286.0" y2="136.5"/>
<line x1="440.0" y1="408.5" x2="1286.0" y2="408.5"/>
<line x1="826.0" y1="510.5" x2="1286.0" y2="510.5"/>
<line x1="521.0" y1="565.5" x2="1286.0" y2="565.5"/>
<line x1="472.0" y1="589.5" x2="1286.0" y2="589.5"/>
</g>
<rect x="10" y="285" width="0.9" height="18" fill="#ef5350"/>
<path d="M16.50 236.0V275.0M37.50 174.0V197.0M41.50 179.0V204.0M45.50 186.0V205.0M59.50 154.0V187.0M62.50 154.0V190.0M66.50 175.0V213.0M69.50 194.0V205.0M73.50 204.0V223.0M80.50 187.0V206.0M83.50 183.0V205.0M87.50 195.0V220.0M108.50 166.0V183.0M111.50 166.0V182.0M125.50 116.0V151.0M132.50 125.0V139.0M136.50 125.0V135.0M139.50 129.0V141.0M153.50 91.0V103.0M157.50 97.0V145.0M174.50 57.0V87.0M178.50 72.0V94.0M181.50 86.0V114.0M185.50 85.0V106.0M192.50 82.0V139.0M202.50 117.0V139.0M206.50 129.0V164.0M209.50 143.0V173.0M227.50 67.0V124.0M230.50 98.0V139.0M234.50 134.0V162.0M248.50 119.0V144.0M251.50 118.0V149.0M255.50 136.0V171.0M258.50 166.0V188.0M262.50 176.0V186.0M272.50 167.0V198.0M283.50 180.0V202.0M297.50 152.0V192.0M300.50 185.0V226.0M304.50 217.0V273.0M307.50 267.0V290.0M311.50 273.0V301.0M314.50 279.0V298.0M318.50 284.0V310.0M328.50 278.0V297.0M332.50 288.0V307.0M335.50 293.0V311.0M353.50 265.0V284.0M360.50 258.0V279.0M363.50 263.0V285.0M374.50 270.0V305.0M377.50 304.0V381.0M388.50 302.0V327.0M395.50 317.0V402.0M398.50 399.0V463.0M402.50 421.0V456.0M409.50 424.0V457.0M416.50 456.0V503.0M426.50 433.0V456.0M433.50 433.0V467.0M447.50 415.0V449.0M451.50 425.0V447.0M454.50 424.0V457.0M465.50 396.0V424.0M472.50 363.0V394.0M479.50 389.0V406.0M486.50 394.0V425.0M489.50 406.0V428.0M493.50 428.0V451.0M500.50 429.0V462.0M503.50 458.0V475.0M514.50 408.0V456.0M521.50 448.0V478.0M528.50 449.0V476.0M531.50 466.0V487.0M538.50 455.0V470.0M545.50 456.0V481.0M549.50 481.0V515.0M556.50 487.0V512.0M563.50 463.0V483.0M567.50 458.0V473.0M574.50 448.0V488.0M577.50 490.0V511.0M581.50 493.0V513.0M584.50 515.0V537.0M588.50 518.0V537.0M591.50 525.0V545.0M595.50 538.0V559.0M605.50 533.0V542.0M616.50 509.0V520.0M633.50 467.0V511.0M640.50 479.0V497.0M644.50 482.0V511.0M647.50 500.0V525.0M651.50 514.0V530.0M675.50 418.0V478.0M686.50 470.0V495.0M689.50 483.0V502.0M700.50 477.0V504.0M703.50 495.0V514.0M710.50 492.0V510.0M721.50 484.0V496.0M728.50 470.0V516.0M735.50 480.0V496.0M738.50 473.0V495.0M742.50 492.0V510.0M745.50 495.0V511.0M749.50 505.0V517.0M756.50 477.0V498.0M763.50 491.0V521.0M766.50 502.0V521.0M773.50 503.0V515.0M777.50 498.0V519.0M784.50 511.0V527.0M787.50 522.0V553.0M801.50 507.0V527.0M805.50 520.0V530.0M815.50 481.0V495.0M819.50 494.0V508.0M822.50 500.0V514.0M826.50 504.0V520.0M833.50 502.0V515.0M850.50 448.0V471.0M857.50 446.0V464.0M861.50 461.0V477.0M864.50 475.0V489.0M871.50 476.0V486.0M878.50 459.0V472.0M882.50 459.0V468.0M885.50 460.0V474.0M889.50 464.0V474.0M892.50 466.0V480.0M913.50 414.0V425.0M917.50 423.0V439.0M920.50 432.0V449.0M924.50 437.0V447.0M927.50 437.0V453.0M934.50 442.0V464.0M959.50 416.0V427.0M962.50 418.0V440.0M966.50 429.0V444.0M973.50 434.0V450.0M976.50 445.0V462.0M980.50 443.0V453.0M983.50 453.0V470.0M990.50 459.0V471.0M1001.50 454.0V479.0M1004.50 472.0V495.0M1011.50 483.0V495.0M1015.50 489.0V505.0M1029.50 474.0V493.0M1032.50 493.0V506.0M1043.50 494.0V503.0M1057.50 469.0V491.0M1075.50 455.0V476.0M1082.50 455.0V466.0M1092.50 447.0V463.0M1096.50 459.0V491.0M1103.50 470.0V491.0M1106.50 483.0V521.0M1113.50 526.0V589.0M1131.50 511.0V526.0M1141.50 501.0V516.0M1145.50 509.0V544.0M1148.50 536.0V551.0M1152.50 527.0V555.0M1155.50 534.0V546.0M1159.50 531.0V544.0M1166.50 517.0V534.0M1176.50 497.0V515.0M1180.50 506.0V524.0" stroke="#ef5350" stroke-width="1" fill="none"/>
<path d="M13.50 229.0V294.0M20.50 238.0V269.0M23.50 220.0V247.0M27.50 202.0V228.0M30.50 189.0V219.0M34.50 170.0V194.0M48.50 175.0V205.0M52.50 167.0V192.0M55.50 133.0V175.0M76.50 182.0V218.0M90.50 203.0V230.0M94.50 201.0V216.0M97.50 186.0V205.0M101.50 179.0V198.0M104.50 171.0V196.0M115.50 169.0V183.0M118.50 126.0V177.0M122.50 118.0V142.0M129.50 126.0V147.0M143.50 122.0V145.0M146.50 115.0V141.0M150.50 80.0V126.0M160.50 110.0V141.0M164.50 86.0V116.0M167.50 86.0V102.0M171.50 64.0V97.0M188.50 84.0V106.0M195.50 107.0V139.0M199.50 126.0V145.0M213.50 134.0V147.0M216.50 125.0V145.0M220.50 127.0V154.0M223.50 115.0V144.0M237.50 132.0V153.0M241.50 124.0V154.0M244.50 119.0V133.0M265.50 168.0V180.0M269.50 158.0V177.0M276.50 182.0V195.0M279.50 182.0V204.0M286.50 185.0V203.0M290.50 160.0V191.0M293.50 148.0V166.0M321.50 290.0V305.0M325.50 279.0V300.0M339.50 285.0V309.0M342.50 277.0V306.0M346.50 273.0V291.0M349.50 265.0V287.0M356.50 257.0V275.0M367.50 267.0V291.0M370.50 267.0V281.0M381.50 311.0V371.0M384.50 298.0V348.0M391.50 306.0V360.0M405.50 417.0V446.0M412.50 437.0V455.0M419.50 440.0V500.0M423.50 430.0V469.0M430.50 431.0V450.0M437.50 450.0V466.0M440.50 438.0V459.0M444.50 414.0V441.0M458.50 428.0V453.0M461.50 399.0V442.0M468.50 355.0V409.0M475.50 386.0V417.0M482.50 381.0V408.0M496.50 423.0V448.0M507.50 441.0V472.0M510.50 429.0V448.0M517.50 439.0V459.0M524.50 452.0V480.0M535.50 451.0V476.0M542.50 450.0V469.0M553.50 479.0V513.0M560.50 468.0V499.0M570.50 468.0V481.0M598.50 531.0V551.0M602.50 521.0V548.0M609.50 512.0V541.0M612.50 506.0V530.0M619.50 503.0V527.0M623.50 501.0V517.0M626.50 495.0V509.0M630.50 475.0V503.0M637.50 466.0V488.0M654.50 517.0V533.0M658.50 505.0V521.0M661.50 475.0V519.0M665.50 459.0V479.0M668.50 428.0V475.0M672.50 424.0V445.0M679.50 464.0V479.0M682.50 461.0V479.0M693.50 487.0V502.0M696.50 476.0V499.0M707.50 488.0V514.0M714.50 492.0V509.0M717.50 489.0V502.0M724.50 475.0V493.0M731.50 480.0V511.0M752.50 478.0V514.0M759.50 484.0V497.0M770.50 507.0V528.0M780.50 505.0V519.0M791.50 534.0V565.0M794.50 515.0V543.0M798.50 507.0V527.0M808.50 503.0V529.0M812.50 478.0V510.0M829.50 495.0V518.0M836.50 482.0V503.0M840.50 476.0V498.0M843.50 462.0V479.0M847.50 443.0V475.0M854.50 451.0V470.0M868.50 480.0V499.0M875.50 464.0V482.0M896.50 451.0V477.0M899.50 437.0V467.0M903.50 433.0V449.0M906.50 428.0V438.0M910.50 418.0V437.0M931.50 438.0V448.0M938.50 449.0V464.0M941.50 442.0V455.0M945.50 440.0V449.0M948.50 418.0V444.0M952.50 414.0V426.0M955.50 413.0V428.0M969.50 438.0V449.0M987.50 461.0V472.0M994.50 455.0V471.0M997.50 452.0V465.0M1008.50 481.0V490.0M1018.50 477.0V494.0M1022.50 480.0V494.0M1025.50 473.0V485.0M1036.50 500.0V509.0M1039.50 495.0V505.0M1046.50 490.0V502.0M1050.50 482.0V494.0M1053.50 482.0V495.0M1061.50 477.0V494.0M1064.50 473.0V482.0M1068.50 464.0V475.0M1071.50 454.0V468.0M1078.50 455.0V469.0M1085.50 446.0V461.0M1089.50 446.0V458.0M1099.50 469.0V486.0M1110.50 524.0V544.0M1117.50 544.0V578.0M1120.50 549.0V572.0M1124.50 531.0V568.0M1127.50 510.0V536.0M1134.50 510.0V525.0M1138.50 501.0V513.0M1162.50 532.0V542.0M1169.50 510.0V532.0M1173.50 497.0V516.0" stroke="#26a69a" stroke-width="1" fill="none"/>
<path d="M15.00 240.0h3V269.0h-3zM36.00 176.0h3V185.0h-3zM40.00 184.0h3V201.0h-3zM44.00 199.0h3V204.0h-3zM58.00 154.0h3V179.0h-3zM61.00 154.0h3V178.0h-3zM65.00 179.0h3V209.0h-3zM68.00 203.0h3V204.0h-3zM72.00 211.0h3V218.0h-3zM79.00 191.0h3V197.0h-3zM82.00 193.0h3V197.0h-3zM86.00 196.0h3V220.0h-3zM107.00 173.0h3V174.0h-3zM110.00 174.0h3V178.0h-3zM124.00 118.0h3V144.0h-3zM131.00 130.0h3V131.0h-3zM135.00 130.0h3V134.0h-3zM138.00 133.0h3V137.0h-3zM152.00 92.0h3V103.0h-3zM156.00 102.0h3V127.0h-3zM173.00 76.0h3V82.0h-3zM177.00 79.0h3V93.0h-3zM180.00 91.0h3V98.0h-3zM184.00 97.0h3V102.0h-3zM191.00 85.0h3V134.0h-3zM201.00 127.0h3V133.0h-3zM205.00 133.0h3V156.0h-3zM208.00 155.0h3V158.0h-3zM226.00 118.0h3V121.0h-3zM229.00 111.0h3V137.0h-3zM233.00 134.0h3V151.0h-3zM247.00 124.0h3V138.0h-3zM250.00 136.0h3V138.0h-3zM254.00 138.0h3V171.0h-3zM257.00 168.0h3V181.0h-3zM261.00 180.0h3V182.0h-3zM271.00 168.0h3V198.0h-3zM282.00 181.0h3V199.0h-3zM296.00 152.0h3V189.0h-3zM299.00 188.0h3V226.0h-3zM303.00 223.0h3V273.0h-3zM306.00 270.0h3V278.0h-3zM310.00 278.0h3V286.0h-3zM313.00 285.0h3V286.0h-3zM317.00 288.0h3V304.0h-3zM327.00 288.0h3V292.0h-3zM331.00 291.0h3V304.0h-3zM334.00 302.0h3V310.0h-3zM352.00 270.0h3V275.0h-3zM359.00 258.0h3V272.0h-3zM362.00 272.0h3V282.0h-3zM373.00 274.0h3V294.0h-3zM376.00 313.0h3V358.0h-3zM387.00 302.0h3V322.0h-3zM394.00 318.0h3V395.0h-3zM397.00 399.0h3V436.0h-3zM401.00 427.0h3V441.0h-3zM408.00 425.0h3V455.0h-3zM415.00 461.0h3V489.0h-3zM425.00 437.0h3V454.0h-3zM432.00 442.0h3V467.0h-3zM446.00 421.0h3V427.0h-3zM450.00 427.0h3V436.0h-3zM453.00 433.0h3V450.0h-3zM464.00 404.0h3V413.0h-3zM471.00 364.0h3V394.0h-3zM478.00 392.0h3V399.0h-3zM485.00 394.0h3V414.0h-3zM488.00 411.0h3V428.0h-3zM492.00 428.0h3V440.0h-3zM499.00 432.0h3V461.0h-3zM502.00 460.0h3V467.0h-3zM513.00 408.0h3V453.0h-3zM520.00 449.0h3V475.0h-3zM527.00 457.0h3V471.0h-3zM530.00 471.0h3V475.0h-3zM537.00 457.0h3V465.0h-3zM544.00 465.0h3V480.0h-3zM548.00 483.0h3V507.0h-3zM555.00 491.0h3V496.0h-3zM562.00 468.0h3V469.0h-3zM566.00 468.0h3V473.0h-3zM573.00 460.0h3V488.0h-3zM576.00 494.0h3V502.0h-3zM580.00 503.0h3V512.0h-3zM583.00 517.0h3V525.0h-3zM587.00 524.0h3V528.0h-3zM590.00 530.0h3V545.0h-3zM594.00 545.0h3V550.0h-3zM604.00 533.0h3V538.0h-3zM615.00 517.0h3V520.0h-3zM632.00 479.0h3V491.0h-3zM639.00 482.0h3V483.0h-3zM643.00 487.0h3V507.0h-3zM646.00 505.0h3V523.0h-3zM650.00 519.0h3V530.0h-3zM674.00 427.0h3V476.0h-3zM685.00 473.0h3V494.0h-3zM688.00 492.0h3V499.0h-3zM699.00 482.0h3V499.0h-3zM702.00 499.0h3V509.0h-3zM709.00 493.0h3V507.0h-3zM720.00 490.0h3V493.0h-3zM727.00 478.0h3V511.0h-3zM734.00 483.0h3V493.0h-3zM737.00 491.0h3V494.0h-3zM741.00 496.0h3V505.0h-3zM744.00 505.0h3V506.0h-3zM748.00 506.0h3V512.0h-3zM755.00 486.0h3V496.0h-3zM762.00 491.0h3V511.0h-3zM765.00 508.0h3V521.0h-3zM772.00 506.0h3V507.0h-3zM776.00 508.0h3V519.0h-3zM783.00 514.0h3V525.0h-3zM786.00 524.0h3V550.0h-3zM800.00 513.0h3V527.0h-3zM804.00 525.0h3V530.0h-3zM814.00 482.0h3V495.0h-3zM818.00 494.0h3V503.0h-3zM821.00 503.0h3V509.0h-3zM825.00 508.0h3V512.0h-3zM832.00 506.0h3V512.0h-3zM849.00 449.0h3V470.0h-3zM856.00 453.0h3V464.0h-3zM860.00 462.0h3V477.0h-3zM863.00 476.0h3V489.0h-3zM870.00 476.0h3V480.0h-3zM877.00 465.0h3V469.0h-3zM881.00 467.0h3V468.0h-3zM884.00 466.0h3V467.0h-3zM888.00 469.0h3V472.0h-3zM891.00 473.0h3V474.0h-3zM912.00 421.0h3V422.0h-3zM916.00 423.0h3V439.0h-3zM919.00 436.0h3V444.0h-3zM923.00 441.0h3V442.0h-3zM926.00 440.0h3V448.0h-3zM933.00 445.0h3V456.0h-3zM958.00 420.0h3V421.0h-3zM961.00 420.0h3V436.0h-3zM965.00 433.0h3V444.0h-3zM972.00 443.0h3V447.0h-3zM975.00 446.0h3V450.0h-3zM979.00 447.0h3V453.0h-3zM982.00 453.0h3V470.0h-3zM989.00 461.0h3V465.0h-3zM1000.00 455.0h3V478.0h-3zM1003.00 480.0h3V489.0h-3zM1010.00 486.0h3V492.0h-3zM1014.00 490.0h3V493.0h-3zM1028.00 476.0h3V492.0h-3zM1031.00 493.0h3V505.0h-3zM1042.00 498.0h3V501.0h-3zM1056.00 483.0h3V488.0h-3zM1074.00 458.0h3V469.0h-3zM1081.00 457.0h3V463.0h-3zM1091.00 448.0h3V463.0h-3zM1095.00 459.0h3V481.0h-3zM1102.00 471.0h3V491.0h-3zM1105.00 488.0h3V521.0h-3zM1112.00 535.0h3V581.0h-3zM1130.00 518.0h3V524.0h-3zM1140.00 501.0h3V512.0h-3zM1144.00 511.0h3V542.0h-3zM1147.00 537.0h3V542.0h-3zM1151.00 540.0h3V541.0h-3zM1154.00 538.0h3V540.0h-3zM1158.00 539.0h3V542.0h-3zM1165.00 532.0h3V533.0h-3zM1175.00 504.0h3V509.0h-3zM1179.00 511.0h3V513.0h-3z" fill="#ef5350"/>
<path d="M12.00 241.0h3V294.0h-3zM19.00 247.0h3V266.0h-3zM22.00 226.0h3V247.0h-3zM26.00 210.0h3V228.0h-3zM29.00 191.0h3V209.0h-3zM33.00 177.0h3V194.0h-3zM47.00 186.0h3V205.0h-3zM51.00 171.0h3V187.0h-3zM54.00 154.0h3V171.0h-3zM75.00 195.0h3V218.0h-3zM89.00 209.0h3V217.0h-3zM93.00 202.0h3V210.0h-3zM96.00 195.0h3V203.0h-3zM100.00 186.0h3V195.0h-3zM103.00 172.0h3V189.0h-3zM114.00 175.0h3V180.0h-3zM117.00 129.0h3V176.0h-3zM121.00 120.0h3V133.0h-3zM128.00 133.0h3V144.0h-3zM142.00 133.0h3V137.0h-3zM145.00 118.0h3V134.0h-3zM149.00 90.0h3V118.0h-3zM159.00 111.0h3V125.0h-3zM163.00 99.0h3V114.0h-3zM166.00 94.0h3V97.0h-3zM170.00 76.0h3V92.0h-3zM187.00 85.0h3V103.0h-3zM194.00 133.0h3V138.0h-3zM198.00 126.0h3V137.0h-3zM212.00 139.0h3V147.0h-3zM215.00 138.0h3V141.0h-3zM219.00 128.0h3V142.0h-3zM222.00 118.0h3V131.0h-3zM236.00 147.0h3V151.0h-3zM240.00 131.0h3V148.0h-3zM243.00 124.0h3V133.0h-3zM264.00 172.0h3V180.0h-3zM268.00 166.0h3V172.0h-3zM275.00 185.0h3V192.0h-3zM278.00 183.0h3V185.0h-3zM285.00 192.0h3V203.0h-3zM289.00 162.0h3V191.0h-3zM292.00 152.0h3V164.0h-3zM320.00 297.0h3V304.0h-3zM324.00 288.0h3V297.0h-3zM338.00 301.0h3V309.0h-3zM341.00 289.0h3V303.0h-3zM345.00 276.0h3V291.0h-3zM348.00 270.0h3V277.0h-3zM355.00 257.0h3V274.0h-3zM366.00 275.0h3V282.0h-3zM369.00 274.0h3V275.0h-3zM380.00 322.0h3V356.0h-3zM383.00 301.0h3V317.0h-3zM390.00 321.0h3V328.0h-3zM404.00 424.0h3V435.0h-3zM411.00 449.0h3V455.0h-3zM418.00 440.0h3V490.0h-3zM422.00 435.0h3V447.0h-3zM429.00 442.0h3V450.0h-3zM436.00 457.0h3V463.0h-3zM439.00 440.0h3V458.0h-3zM443.00 421.0h3V441.0h-3zM457.00 432.0h3V446.0h-3zM460.00 404.0h3V434.0h-3zM467.00 363.0h3V403.0h-3zM474.00 390.0h3V394.0h-3zM481.00 392.0h3V400.0h-3zM495.00 431.0h3V441.0h-3zM506.00 443.0h3V466.0h-3zM509.00 432.0h3V446.0h-3zM516.00 448.0h3V456.0h-3zM523.00 455.0h3V480.0h-3zM534.00 456.0h3V476.0h-3zM541.00 462.0h3V465.0h-3zM552.00 495.0h3V508.0h-3zM559.00 470.0h3V494.0h-3zM569.00 472.0h3V477.0h-3zM597.00 545.0h3V551.0h-3zM601.00 532.0h3V547.0h-3zM608.00 518.0h3V539.0h-3zM611.00 518.0h3V525.0h-3zM618.00 516.0h3V521.0h-3zM622.00 505.0h3V517.0h-3zM625.00 496.0h3V503.0h-3zM629.00 477.0h3V496.0h-3zM636.00 478.0h3V488.0h-3zM653.00 518.0h3V531.0h-3zM657.00 512.0h3V521.0h-3zM660.00 476.0h3V517.0h-3zM664.00 467.0h3V478.0h-3zM667.00 431.0h3V468.0h-3zM671.00 425.0h3V436.0h-3zM678.00 474.0h3V477.0h-3zM681.00 473.0h3V478.0h-3zM692.00 491.0h3V502.0h-3zM695.00 482.0h3V494.0h-3zM706.00 493.0h3V510.0h-3zM713.00 495.0h3V509.0h-3zM716.00 490.0h3V496.0h-3zM723.00 477.0h3V492.0h-3zM730.00 484.0h3V511.0h-3zM751.00 489.0h3V514.0h-3zM758.00 490.0h3V497.0h-3zM769.00 508.0h3V526.0h-3zM779.00 514.0h3V519.0h-3zM790.00 536.0h3V552.0h-3zM793.00 523.0h3V540.0h-3zM797.00 513.0h3V525.0h-3zM807.00 506.0h3V529.0h-3zM811.00 484.0h3V508.0h-3zM828.00 505.0h3V512.0h-3zM835.00 496.0h3V503.0h-3zM839.00 479.0h3V498.0h-3zM842.00 470.0h3V479.0h-3zM846.00 449.0h3V470.0h-3zM853.00 455.0h3V467.0h-3zM867.00 480.0h3V492.0h-3zM874.00 465.0h3V479.0h-3zM895.00 459.0h3V475.0h-3zM898.00 445.0h3V460.0h-3zM902.00 438.0h3V447.0h-3zM905.00 432.0h3V437.0h-3zM909.00 420.0h3V429.0h-3zM930.00 447.0h3V448.0h-3zM937.00 453.0h3V454.0h-3zM940.00 444.0h3V455.0h-3zM944.00 442.0h3V443.0h-3zM947.00 423.0h3V444.0h-3zM951.00 420.0h3V422.0h-3zM954.00 420.0h3V422.0h-3zM968.00 444.0h3V446.0h-3zM986.00 461.0h3V468.0h-3zM993.00 460.0h3V466.0h-3zM996.00 455.0h3V463.0h-3zM1007.00 486.0h3V490.0h-3zM1017.00 486.0h3V494.0h-3zM1021.00 485.0h3V487.0h-3zM1024.00 474.0h3V484.0h-3zM1035.00 502.0h3V505.0h-3zM1038.00 498.0h3V504.0h-3zM1045.00 492.0h3V501.0h-3zM1049.00 490.0h3V492.0h-3zM1052.00 483.0h3V493.0h-3zM1060.00 478.0h3V486.0h-3zM1063.00 474.0h3V481.0h-3zM1067.00 469.0h3V474.0h-3zM1070.00 459.0h3V468.0h-3zM1077.00 457.0h3V468.0h-3zM1084.00 451.0h3V461.0h-3zM1088.00 450.0h3V451.0h-3zM1098.00 470.0h3V479.0h-3zM1109.00 534.0h3V537.0h-3zM1116.00 561.0h3V575.0h-3zM1119.00 564.0h3V567.0h-3zM1123.00 531.0h3V568.0h-3zM1126.00 515.0h3V531.0h-3zM1133.00 512.0h3V522.0h-3zM1137.00 501.0h3V513.0h-3zM1161.00 533.0h3V542.0h-3zM1168.00 511.0h3V532.0h-3zM1172.00 507.0h3V511.0h-3z" fill="#26a69a"/>
<line x1="9" y1="513.5" x2="1285.5" y2="513.5" stroke="#ef5350" stroke-width="1" stroke-dasharray="1 2" shape-rendering="crispEdges"/>
</g>
<g><circle cx="1180.43" cy="607.44" r="12" fill="#fff"/><path d="M1189.90 604.72A9.85 9.85 0 1 1 1183.64 598.13" fill="none" stroke="#9c27b0" stroke-width="1.45" stroke-linecap="round"/><path d="M1183.0 602.3L1176.3 607.8H1180.1L1177.2 612.9L1184.6 607.1H1181.0Z" fill="#9c27b0" stroke="#9c27b0" stroke-width="0.3" stroke-linejoin="round"/><circle cx="1187.4" cy="600.5" r="2.55" fill="#f23645"/></g>
<g clip-path="url(#ca)">
<text x="1294.2" y="614.2" font-size="12" fill="#131722" textLength="35.4" lengthAdjust="spacingAndGlyphs" stroke="#131722" stroke-width="0.22">95.000</text>
<text x="1294.2" y="468.5" font-size="12" fill="#131722" textLength="35.4" lengthAdjust="spacingAndGlyphs" stroke="#131722" stroke-width="0.22">99.000</text>
<text x="1294.5" y="432.1" font-size="12" fill="#131722" textLength="41.5" lengthAdjust="spacingAndGlyphs" stroke="#131722" stroke-width="0.22">100.000</text>
<text x="1294.5" y="395.6" font-size="12" fill="#131722" textLength="41.5" lengthAdjust="spacingAndGlyphs" stroke="#131722" stroke-width="0.22">101.000</text>
<text x="1294.5" y="359.2" font-size="12" fill="#131722" textLength="41.5" lengthAdjust="spacingAndGlyphs" stroke="#131722" stroke-width="0.22">102.000</text>
<text x="1294.5" y="322.7" font-size="12" fill="#131722" textLength="41.5" lengthAdjust="spacingAndGlyphs" stroke="#131722" stroke-width="0.22">103.000</text>
<text x="1294.5" y="286.3" font-size="12" fill="#131722" textLength="41.5" lengthAdjust="spacingAndGlyphs" stroke="#131722" stroke-width="0.22">104.000</text>
<text x="1294.5" y="249.9" font-size="12" fill="#131722" textLength="41.5" lengthAdjust="spacingAndGlyphs" stroke="#131722" stroke-width="0.22">105.000</text>
<text x="1294.5" y="213.4" font-size="12" fill="#131722" textLength="41.5" lengthAdjust="spacingAndGlyphs" stroke="#131722" stroke-width="0.22">106.000</text>
<text x="1294.5" y="177.0" font-size="12" fill="#131722" textLength="41.5" lengthAdjust="spacingAndGlyphs" stroke="#131722" stroke-width="0.22">107.000</text>
<text x="1294.5" y="104.1" font-size="12" fill="#131722" textLength="41.5" lengthAdjust="spacingAndGlyphs" stroke="#131722" stroke-width="0.22">109.000</text>
<text x="1294.5" y="67.7" font-size="12" fill="#131722" textLength="41.5" lengthAdjust="spacingAndGlyphs" stroke="#131722" stroke-width="0.22">110.000</text>
</g>
<g clip-path="url(#cb)">
<text x="1294.2" y="820.9" font-size="12" fill="#131722" textLength="29.4" lengthAdjust="spacingAndGlyphs" stroke="#131722" stroke-width="0.22">20.00</text>
<text x="1294.2" y="787.0" font-size="12" fill="#131722" textLength="29.4" lengthAdjust="spacingAndGlyphs" stroke="#131722" stroke-width="0.22">30.00</text>
<text x="1294.2" y="752.1" font-size="12" fill="#131722" textLength="29.4" lengthAdjust="spacingAndGlyphs" stroke="#131722" stroke-width="0.22">40.00</text>
<text x="1294.2" y="682.0" font-size="12" fill="#131722" textLength="29.4" lengthAdjust="spacingAndGlyphs" stroke="#131722" stroke-width="0.22">60.00</text>
<text x="1294.2" y="647.1" font-size="12" fill="#131722" textLength="29.4" lengthAdjust="spacingAndGlyphs" stroke="#131722" stroke-width="0.22">70.00</text>
</g>
<rect x="1286.0" y="28.0" width="64.5" height="33" fill="#fff"/>
<rect x="1288.9" y="31.2" width="58" height="25.6" rx="4.5" fill="#fff" stroke="#e6e6e8" stroke-width="1"/>
<text x="1298.2" y="48.8" font-size="12" fill="#131722" textLength="20.8" lengthAdjust="spacingAndGlyphs" stroke="#131722" stroke-width="0.22">USD</text>
<path d="M1286.0 128.0H1339.6Q1341.8 128.0 1341.8 130.2V142.8Q1341.8 145.0 1339.6 145.0H1286.0Z" fill="#0000ff"/>
<text x="1294.4" y="140.8" font-size="12" fill="#fff" textLength="41.6" lengthAdjust="spacingAndGlyphs" stroke="#fff" stroke-width="0.3">108.000</text>
<path d="M1286.0 400.0H1339.8Q1342.0 400.0 1342.0 402.2V414.8Q1342.0 417.0 1339.8 417.0H1286.0Z" fill="#0000ff"/>
<text x="1294.4" y="412.8" font-size="12" fill="#fff" textLength="41.6" lengthAdjust="spacingAndGlyphs" stroke="#fff" stroke-width="0.3">100.540</text>
<path d="M1286.0 471.0H1332.6Q1334.8 471.0 1334.8 473.2V485.8Q1334.8 488.0 1332.6 488.0H1286.0Z" fill="#f23645"/>
<text x="1293.9" y="483.8" font-size="12" fill="#fff" textLength="35.6" lengthAdjust="spacingAndGlyphs" stroke="#fff" stroke-width="0.3">97.950</text>
<path d="M1285.0 471.0V488.0H1237.3Q1235.1 488.0 1235.1 485.8V473.2Q1235.1 471.0 1237.3 471.0Z" fill="#f23645"/>
<text x="1239.8" y="483.8" font-size="12" fill="#fff" textLength="41.6" lengthAdjust="spacingAndGlyphs" stroke="#fff" stroke-width="0.3">SMA:MA</text>
<path d="M1286.0 488.0H1332.6Q1334.8 488.0 1334.8 490.2V502.8Q1334.8 505.0 1332.6 505.0H1286.0Z" fill="#0000ff"/>
<text x="1293.9" y="500.8" font-size="12" fill="#fff" textLength="35.6" lengthAdjust="spacingAndGlyphs" stroke="#fff" stroke-width="0.3">97.740</text>
<path d="M1286.0 550.0H1332.6Q1334.8 550.0 1334.8 552.2V564.8Q1334.8 567.0 1332.6 567.0H1286.0Z" fill="#2962ff"/>
<text x="1293.9" y="562.8" font-size="12" fill="#fff" textLength="35.6" lengthAdjust="spacingAndGlyphs" stroke="#fff" stroke-width="0.3">97.481</text>
<path d="M1285.0 550.0V567.0H1256.3Q1254.1 567.0 1254.1 564.8V552.2Q1254.1 550.0 1256.3 550.0Z" fill="#2962ff"/>
<text x="1259.1" y="562.8" font-size="12" fill="#fff" textLength="22.3" lengthAdjust="spacingAndGlyphs" stroke="#fff" stroke-width="0.3">EMA</text>
<path d="M1286.0 567.0H1332.6Q1334.8 567.0 1334.8 569.2V581.8Q1334.8 584.0 1332.6 584.0H1286.0Z" fill="#0000ff"/>
<text x="1293.9" y="579.8" font-size="12" fill="#fff" textLength="35.6" lengthAdjust="spacingAndGlyphs" stroke="#fff" stroke-width="0.3">96.210</text>
<path d="M1286.0 584.0H1332.6Q1334.8 584.0 1334.8 586.2V598.8Q1334.8 601.0 1332.6 601.0H1286.0Z" fill="#0000ff"/>
<text x="1293.9" y="596.8" font-size="12" fill="#fff" textLength="35.6" lengthAdjust="spacingAndGlyphs" stroke="#fff" stroke-width="0.3">95.550</text>
<path d="M1286.0 701.0H1326.9Q1329.1 701.0 1329.1 703.2V715.8Q1329.1 718.0 1326.9 718.0H1286.0Z" fill="#7e57c2"/>
<text x="1293.9" y="713.8" font-size="12" fill="#fff" textLength="29.0" lengthAdjust="spacingAndGlyphs" stroke="#fff" stroke-width="0.3">50.93</text>
<path d="M1285.0 701.0V718.0H1262.5Q1260.3 718.0 1260.3 715.8V703.2Q1260.3 701.0 1262.5 701.0Z" fill="#7e57c2"/>
<text x="1265.3" y="713.8" font-size="12" fill="#fff" textLength="15.8" lengthAdjust="spacingAndGlyphs" stroke="#fff" stroke-width="0.3">RSI</text>
<path d="M1286.0 718.0H1326.9Q1329.1 718.0 1329.1 720.2V732.8Q1329.1 735.0 1326.9 735.0H1286.0Z" fill="#fdd835"/>
<text x="1293.9" y="730.8" font-size="12" fill="#131722" textLength="29.0" lengthAdjust="spacingAndGlyphs" stroke="#131722" stroke-width="0.15">46.33</text>
<path d="M1285.0 718.0V735.0H1208.5Q1206.3 735.0 1206.3 732.8V720.2Q1206.3 718.0 1208.5 718.0Z" fill="#fdd835"/>
<text x="1210.8" y="730.8" font-size="12" fill="#131722" textLength="70.6" lengthAdjust="spacingAndGlyphs" stroke="#131722" stroke-width="0.15">RSI-based MA</text>
<path d="M1286.0 505.0H1343.6Q1345.8 505.0 1345.8 507.2V547.8Q1345.8 550.0 1343.6 550.0H1286.0Z" fill="#ef5350"/>
<path d="M1285.0 505.0V522.0H1258.2Q1256.0 522.0 1256.0 519.8V507.2Q1256.0 505.0 1258.2 505.0Z" fill="#ef5350"/>
<text x="1259.9" y="517.9" font-size="12" fill="#fff" textLength="21.2" lengthAdjust="spacingAndGlyphs" stroke="#fff" stroke-width="0.3">DXY</text>
<text x="1293.9" y="518.2" font-size="12" fill="#fff" textLength="35.6" lengthAdjust="spacingAndGlyphs" stroke="#fff" stroke-width="0.3">97.638</text>
<text x="1293.9" y="532.3" font-size="12" fill="#fff" textLength="36.6" lengthAdjust="spacingAndGlyphs" stroke="#fff" stroke-width="0.3">−6.04%</text>
<text x="1293.9" y="546.2" font-size="12" fill="#fbd5d4" textLength="46.6" lengthAdjust="spacingAndGlyphs" stroke="#fbd5d4" stroke-width="0.3">08:01:44</text>
<text x="66.5" y="838.2" font-size="12" fill="#131722" textLength="19.9" lengthAdjust="spacingAndGlyphs" stroke="#131722" stroke-width="0.22">Dec</text>
<text x="136.7" y="838.2" font-size="12" fill="#131722" textLength="27.7" lengthAdjust="spacingAndGlyphs" font-weight="bold" stroke="#131722" stroke-width="0.22">2025</text>
<text x="217.9" y="838.2" font-size="12" fill="#131722" textLength="19.1" lengthAdjust="spacingAndGlyphs" stroke="#131722" stroke-width="0.22">Feb</text>
<text x="287.5" y="838.2" font-size="12" fill="#131722" textLength="20.0" lengthAdjust="spacingAndGlyphs" stroke="#131722" stroke-width="0.22">Mar</text>
<text x="361.4" y="838.2" font-size="12" fill="#131722" textLength="18.3" lengthAdjust="spacingAndGlyphs" stroke="#131722" stroke-width="0.22">Apr</text>
<text x="434.4" y="838.2" font-size="12" fill="#131722" textLength="20.3" lengthAdjust="spacingAndGlyphs" stroke="#131722" stroke-width="0.22">May</text>
<text x="512.4" y="838.2" font-size="12" fill="#131722" textLength="18.2" lengthAdjust="spacingAndGlyphs" stroke="#131722" stroke-width="0.22">Jun</text>
<text x="587.9" y="838.2" font-size="12" fill="#131722" textLength="15.2" lengthAdjust="spacingAndGlyphs" stroke="#131722" stroke-width="0.22">Jul</text>
<text x="665.9" y="838.2" font-size="12" fill="#131722" textLength="19.3" lengthAdjust="spacingAndGlyphs" stroke="#131722" stroke-width="0.22">Aug</text>
<text x="740.0" y="838.2" font-size="12" fill="#131722" textLength="18.9" lengthAdjust="spacingAndGlyphs" stroke="#131722" stroke-width="0.22">Sep</text>
<text x="817.5" y="838.2" font-size="12" fill="#131722" textLength="17.9" lengthAdjust="spacingAndGlyphs" stroke="#131722" stroke-width="0.22">Oct</text>
<text x="896.8" y="838.2" font-size="12" fill="#131722" textLength="19.5" lengthAdjust="spacingAndGlyphs" stroke="#131722" stroke-width="0.22">Nov</text>
<text x="966.5" y="838.2" font-size="12" fill="#131722" textLength="19.9" lengthAdjust="spacingAndGlyphs" stroke="#131722" stroke-width="0.22">Dec</text>
<text x="1040.0" y="838.2" font-size="12" fill="#131722" textLength="26.9" lengthAdjust="spacingAndGlyphs" font-weight="bold" stroke="#131722" stroke-width="0.22">2026</text>
<text x="1118.0" y="838.2" font-size="12" fill="#131722" textLength="19.1" lengthAdjust="spacingAndGlyphs" stroke="#131722" stroke-width="0.22">Feb</text>
<text x="1187.5" y="838.2" font-size="12" fill="#131722" textLength="20.0" lengthAdjust="spacingAndGlyphs" stroke="#131722" stroke-width="0.22">Mar</text>
<text x="1265.3" y="838.2" font-size="12" fill="#131722" textLength="18.3" lengthAdjust="spacingAndGlyphs" stroke="#131722" stroke-width="0.22">Apr</text>
<g fill="none" stroke-width="1">
<line x1="9.8" y1="620.5" x2="1351.0" y2="620.5" stroke="#e0e3eb"/>
<line x1="9.8" y1="820.5" x2="1351.0" y2="820.5" stroke="#e0e3eb"/>
<line x1="1285.5" y1="27" x2="1285.5" y2="848.0" stroke="#e0e0e3"/>
<rect x="9.8" y="27" width="1341.2" height="821.0" stroke="#e6e6e8"/>
</g>
<g fill="#111111">
<path d="M12.0 870.1h11.9v14.9h-6v-8.3h-5.9z"/>
<circle cx="29.0" cy="873.1" r="3.0"/>
<path d="M34.4 870.1h7.5l-6.1 14.9h-7.2z"/>
</g>
<text x="49.0" y="885.0" font-size="21" fill="#111111" textLength="120.7" lengthAdjust="spacingAndGlyphs" font-weight="bold">TradingView</text>
</svg></body></html>
